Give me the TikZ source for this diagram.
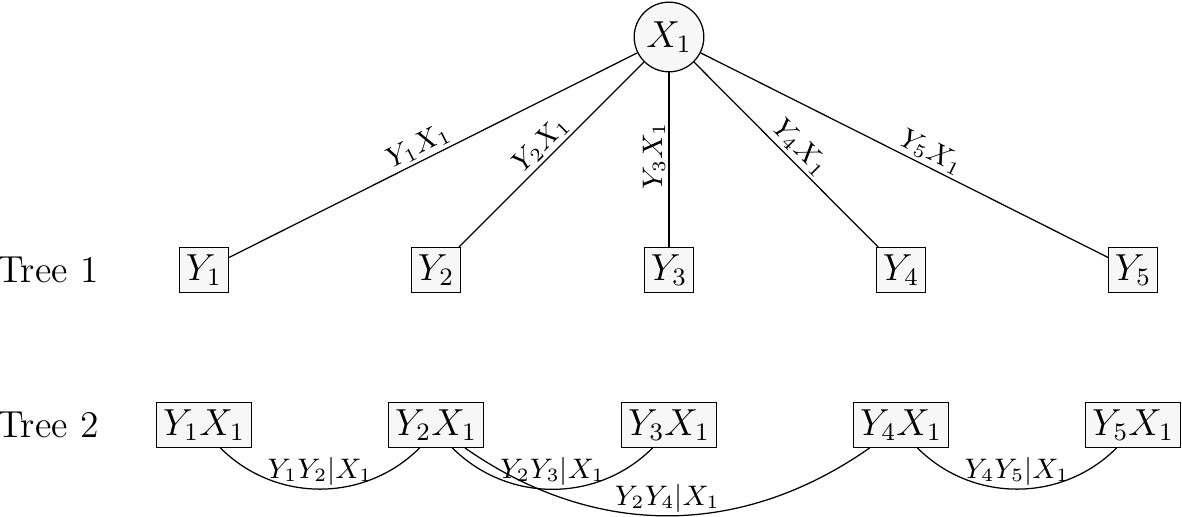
\documentclass[tikz,border=0pt]{standalone}
\begin{document}
\begin{tikzpicture}[x=0.0112cm,y=-0.0112cm,
    vbox/.style={draw,fill=black!3,font=\large,inner sep=2pt,minimum height=0.5cm},
    vcirc/.style={draw,circle,fill=black!3,font=\large,inner sep=1pt,minimum size=0.78cm},
    elab/.style={sloped,above,inner sep=1pt,font=\small}]
    \useasboundingbox (0,0) rectangle (1182,517);

    \node[vcirc] (X1) at (669,37) {$X_1$};

    \node[font=\large] (T1) at (48,270) {Tree 1};
    \node[vbox] (Y1) at (204,270) {$Y_1$};
    \node[vbox] (Y2) at (436,270) {$Y_2$};
    \node[vbox] (Y3) at (669,270) {$Y_3$};
    \node[vbox] (Y4) at (901,270) {$Y_4$};
    \node[vbox] (Y5) at (1133,270) {$Y_5$};

    \node[font=\large] (T2) at (48,425) {Tree 2};
    \node[vbox] (Y1X1) at (204,425) {$Y_1X_1$};
    \node[vbox] (Y2X1) at (436,425) {$Y_2X_1$};
    \node[vbox] (Y3X1) at (669,425) {$Y_3X_1$};
    \node[vbox] (Y4X1) at (901,425) {$Y_4X_1$};
    \node[vbox] (Y5X1) at (1133,425) {$Y_5X_1$};

    \draw (Y1) -- node[elab,pos=0.48] {$Y_1X_1$} (X1);
    \draw (Y2) -- node[elab,pos=0.5] {$Y_2X_1$} (X1);
    \draw (Y3) -- node[elab,pos=0.52] {$Y_3X_1$} (X1);
    \draw (X1) -- node[elab,pos=0.52] {$Y_4X_1$} (Y4);
    \draw (X1) -- node[elab,pos=0.55] {$Y_5X_1$} (Y5);

    \draw ([xshift=-10pt]Y1X1.south east) to[out=-45,in=-135]
        node[above,inner sep=1pt,font=\small] {$Y_1Y_2|X_1$} ([xshift=10pt]Y2X1.south west);
    \draw ([xshift=-10pt]Y2X1.south east) to[out=-45,in=-135]
        node[above,inner sep=1pt,font=\small] {$Y_2Y_3|X_1$} ([xshift=10pt]Y3X1.south west);
    \draw ([xshift=-6pt]Y2X1.south east) to[out=-35,in=-145]
        node[above,inner sep=1pt,font=\small] {$Y_2Y_4|X_1$} ([xshift=-10pt]Y4X1.south);
    \draw ([xshift=-10pt]Y4X1.south east) to[out=-45,in=-135]
        node[above,inner sep=1pt,font=\small] {$Y_4Y_5|X_1$} ([xshift=10pt]Y5X1.south west);
\end{tikzpicture}
\end{document}
